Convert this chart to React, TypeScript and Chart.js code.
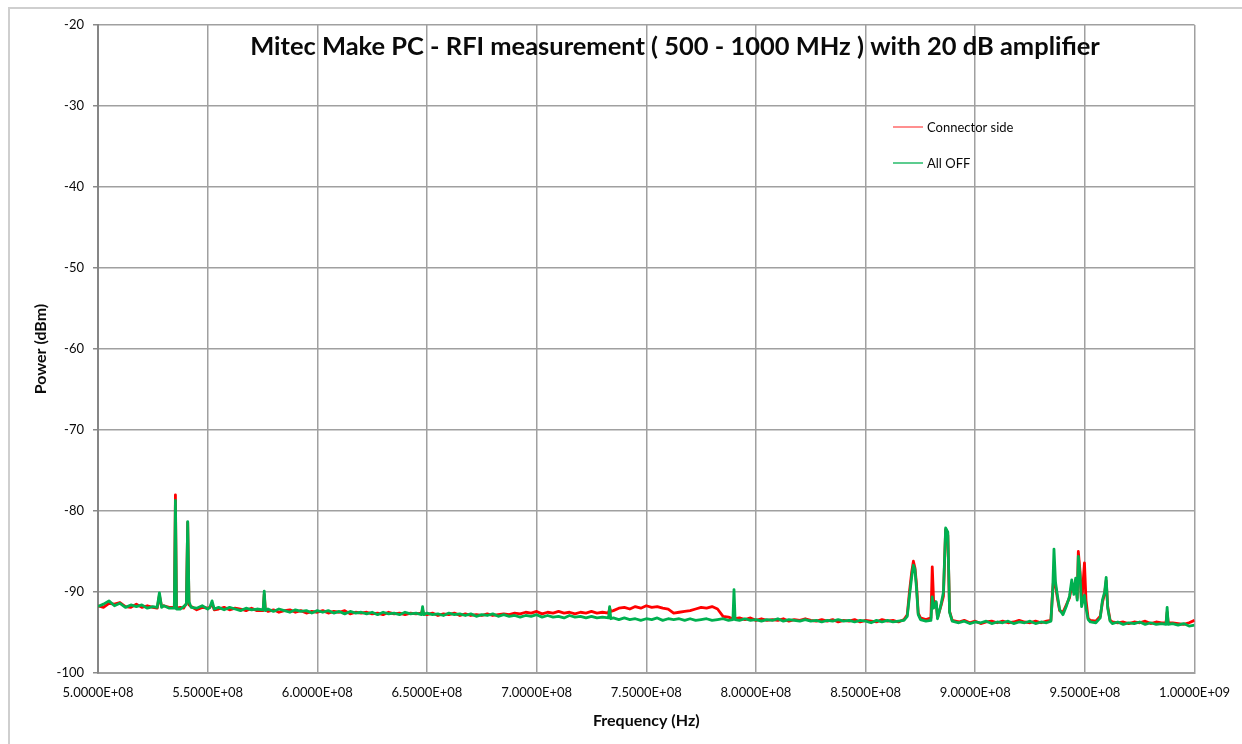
import React, { useEffect, useRef } from "react";
import { Chart, registerables } from "chart.js";

Chart.register(...registerables);

// Frequency in MHz (shared by both traces)
const freqMHz = [
  500, 502.5, 505, 507.5, 510, 512.5, 515, 517.5, 520, 522.5,
  525, 527, 528, 529, 530, 532.5, 534.8, 535.3, 535.8, 537.5,
  539, 540.3, 540.9, 541.5, 542.5, 545, 547.5, 550, 551, 552,
  553, 555, 557.5, 560, 562.5, 565, 567.5, 570, 572.5, 575.3,
  575.8, 576.3, 577.5, 580, 582.5, 585, 587.5, 590, 592.5, 595,
  597.5, 600, 602.5, 605, 607.5, 610, 612.5, 615, 617.5, 620,
  622.5, 625, 627.5, 630, 632.5, 635, 637.5, 640, 642.5, 645,
  647.5, 648, 648.5, 650, 652.5, 655, 657.5, 660, 662.5, 665,
  667.5, 670, 672.5, 675, 677.5, 680, 682.5, 685, 687.5, 690,
  692.5, 695, 697.5, 700, 702.5, 705, 707.5, 710, 712.5, 715,
  717.5, 720, 722.5, 725, 727.5, 730, 732.8, 733.3, 733.8, 735,
  737.5, 740, 742.5, 745, 747.5, 750, 752.5, 755, 757.5, 760,
  762.5, 765, 767.5, 770, 772.5, 775, 777.5, 780, 782.5, 785,
  787.5, 789.5, 790, 790.5, 792.5, 795, 797.5, 800, 802.5, 805,
  807.5, 810, 812.5, 815, 817.5, 820, 822.5, 825, 827.5, 830,
  832.5, 835, 837.5, 840, 842.5, 845, 847.5, 850, 852.5, 855,
  857.5, 860, 862.5, 865, 867.5, 869, 870, 871, 871.8, 872.5,
  873.2, 874, 875, 877.5, 879.8, 880.4, 881, 882.2, 882.8, 884.5,
  885.5, 886.5, 887.5, 888.3, 889.5, 892.5, 895, 897.5, 900, 902.5,
  905, 907.5, 910, 912.5, 915, 917.5, 920, 922.5, 925, 927.5,
  930, 932.5, 934.5, 935.3, 935.9, 936.6, 937.5, 938.5, 940, 941.5,
  943, 944, 945, 945.8, 946.5, 947, 947.8, 948.5, 949.8, 950.5,
  951.5, 952.5, 955, 957, 958, 959, 959.7, 960.4, 961.5, 962.5,
  965, 967.5, 970, 972.5, 975, 977.5, 980, 982.5, 985, 987,
  987.5, 988, 990, 992.5, 995, 997.5, 1000,
];

// Power (dBm) - "Connector side" (red)
const connectorSide = [
  -91.7, -91.9, -91.4, -91.5, -91.3, -91.8, -91.9, -91.5, -91.9, -91.7,
  -91.9, -92.0, -90.4, -91.8, -91.7, -91.9, -91.9, -78.0, -92.0, -91.9,
  -92.0, -91.4, -81.4, -91.6, -91.8, -92.2, -91.9, -92.0, -91.9, -91.4,
  -92.2, -92.1, -91.9, -92.2, -92.0, -92.1, -92.3, -92.0, -92.3, -92.3,
  -90.3, -92.1, -92.4, -92.2, -92.5, -92.3, -92.2, -92.5, -92.3, -92.6,
  -92.4, -92.5, -92.3, -92.6, -92.4, -92.5, -92.3, -92.7, -92.5, -92.6,
  -92.5, -92.7, -92.6, -92.8, -92.5, -92.7, -92.6, -92.8, -92.6, -92.7,
  -92.6, -92.2, -92.7, -92.8, -92.6, -92.9, -92.7, -92.8, -92.6, -92.9,
  -92.7, -92.9, -92.8, -92.9, -92.7, -92.9, -92.8, -92.7, -92.8, -92.6,
  -92.7, -92.5, -92.6, -92.4, -92.7, -92.5, -92.6, -92.4, -92.6, -92.5,
  -92.7, -92.5, -92.6, -92.4, -92.6, -92.5, -92.6, -92.0, -92.4, -92.3,
  -92.0, -91.9, -92.1, -91.8, -92.0, -91.7, -91.9, -91.8, -92.0, -92.1,
  -92.6, -92.5, -92.4, -92.3, -92.1, -91.9, -92.0, -91.8, -92.1, -93.0,
  -93.1, -93.3, -93.0, -93.3, -93.2, -93.4, -93.2, -93.5, -93.3, -93.5,
  -93.4, -93.5, -93.3, -93.6, -93.4, -93.5, -93.3, -93.5, -93.6, -93.4,
  -93.6, -93.4, -93.7, -93.5, -93.6, -93.4, -93.7, -93.5, -93.6, -93.7,
  -93.4, -93.6, -93.5, -93.7, -93.4, -92.8, -90.0, -87.6, -86.2, -87.0,
  -89.0, -92.6, -93.2, -93.4, -93.2, -86.9, -91.0, -91.4, -93.2, -91.6,
  -90.5, -82.3, -83.0, -92.4, -93.5, -93.7, -93.5, -93.8, -93.6, -93.9,
  -93.7, -93.6, -93.8, -93.6, -93.8, -93.7, -93.5, -93.7, -93.8, -93.6,
  -93.8, -93.6, -93.5, -89.8, -88.0, -89.3, -90.8, -92.3, -92.5, -91.6,
  -90.7, -89.2, -90.0, -88.5, -90.8, -85.0, -87.5, -91.5, -86.4, -91.0,
  -93.3, -93.5, -93.6, -93.0, -91.3, -90.2, -88.6, -91.8, -93.5, -93.7,
  -93.8, -93.7, -93.9, -93.7, -93.8, -93.6, -93.9, -93.7, -93.8, -93.8,
  -92.5, -93.8, -93.8, -93.9, -94.0, -93.8, -93.5,
];

// Power (dBm) - "All OFF" (green)
const allOff = [
  -91.8, -91.5, -91.1, -91.7, -91.4, -91.9, -91.6, -91.8, -91.6, -92.0,
  -91.8, -91.9, -90.1, -91.9, -91.7, -92.0, -92.0, -78.7, -92.1, -92.1,
  -91.8, -91.5, -81.3, -91.2, -91.9, -92.0, -91.7, -92.1, -91.9, -91.1,
  -92.1, -91.9, -92.2, -91.9, -92.1, -92.3, -92.0, -92.2, -92.1, -92.2,
  -89.9, -92.3, -92.1, -92.4, -92.1, -92.3, -92.5, -92.2, -92.4, -92.3,
  -92.6, -92.3, -92.5, -92.3, -92.6, -92.4, -92.7, -92.4, -92.6, -92.5,
  -92.7, -92.5, -92.8, -92.5, -92.7, -92.6, -92.8, -92.5, -92.7, -92.6,
  -92.8, -91.8, -92.8, -92.6, -92.8, -92.7, -92.9, -92.6, -92.8, -92.7,
  -92.9, -92.7, -93.0, -92.8, -92.9, -92.7, -93.0, -92.8, -93.0, -92.9,
  -93.1, -92.9, -93.0, -92.8, -93.1, -92.9, -93.1, -93.0, -93.2, -92.9,
  -93.1, -93.0, -93.2, -93.0, -93.2, -93.1, -93.2, -91.8, -93.3, -93.2,
  -93.4, -93.2, -93.4, -93.3, -93.5, -93.3, -93.4, -93.2, -93.5, -93.3,
  -93.4, -93.3, -93.5, -93.3, -93.5, -93.4, -93.3, -93.5, -93.4, -93.3,
  -93.5, -93.4, -89.7, -93.4, -93.5, -93.3, -93.5, -93.4, -93.6, -93.4,
  -93.5, -93.3, -93.6, -93.4, -93.5, -93.6, -93.4, -93.6, -93.5, -93.7,
  -93.5, -93.6, -93.4, -93.6, -93.5, -93.7, -93.5, -93.6, -93.8, -93.5,
  -93.7, -93.5, -93.7, -93.6, -93.5, -93.0, -90.5, -88.2, -86.7, -87.2,
  -89.5, -92.8, -93.4, -93.6, -93.5, -90.6, -92.0, -91.2, -93.3, -91.4,
  -90.0, -82.1, -82.6, -92.5, -93.6, -93.8, -93.6, -93.9, -93.7, -93.8,
  -93.6, -93.9, -93.7, -93.8, -93.6, -93.9, -93.7, -93.8, -93.6, -93.9,
  -93.7, -93.8, -93.6, -90.0, -84.7, -88.8, -90.5, -92.2, -92.8, -91.8,
  -90.5, -88.5, -90.3, -88.3, -91.0, -85.6, -88.0, -91.8, -90.4, -92.0,
  -93.4, -93.7, -93.8, -93.2, -91.0, -90.0, -88.2, -92.0, -93.6, -93.9,
  -93.7, -94.0, -93.8, -93.9, -93.7, -94.0, -93.8, -94.0, -93.9, -94.0,
  -91.9, -94.0, -93.9, -94.1, -93.9, -94.2, -94.1,
];

const xTickLabels = [
  "5.0000E+08", "5.5000E+08", "6.0000E+08", "6.5000E+08", "7.0000E+08", "7.5000E+08",
  "8.0000E+08", "8.5000E+08", "9.0000E+08", "9.5000E+08", "1.0000E+09",
];
const seriesNames = ["Connector side", "All OFF"];
const seriesColors = ["#ff0000", "#00b050"];
const legendColors = ["rgba(255,40,40,0.65)", "rgba(0,176,80,0.8)"];
const chartTitle = "Mitec Make PC - RFI measurement ( 500 - 1000 MHz ) with 20 dB amplifier";
const xTitle = "Frequency (Hz)";
const yTitle = "Power (dBm)";

const FONT = "Lato";
const TEXT = "#0a0a0a";

const decorPlugin = {
  id: "decor",
  beforeDraw(chart: any) {
    const ctx = chart.ctx;
    ctx.save();
    ctx.fillStyle = "#ffffff";
    ctx.fillRect(0, 0, chart.width, chart.height);
    ctx.strokeStyle = "#cfcfcf";
    ctx.lineWidth = 2;
    ctx.strokeRect(9, 8, chart.width + 20, chart.height + 20);
    ctx.restore();
  },
  afterDraw(chart: any) {
    const ctx = chart.ctx;
    ctx.save();
    // Title
    ctx.font = `bold 24px ${FONT}`;
    const w = ctx.measureText(chartTitle).width;
    const size = 24 * 850 / w;
    ctx.font = `bold ${size}px ${FONT}`;
    ctx.fillStyle = TEXT;
    ctx.textAlign = "center";
    ctx.textBaseline = "middle";
    ctx.fillText(chartTitle, 675, 47);
    // Legend
    ctx.font = `13px ${FONT}`;
    ctx.textAlign = "left";
    const ys = [127, 163];
    seriesNames.forEach((name, i) => {
      ctx.strokeStyle = legendColors[i];
      ctx.lineWidth = 1.6;
      ctx.beginPath();
      ctx.moveTo(893, ys[i]);
      ctx.lineTo(923, ys[i]);
      ctx.stroke();
      ctx.fillStyle = TEXT;
      ctx.fillText(name, 927, ys[i] + 0.5);
    });
    ctx.restore();
  },
};

export default function App() {
  const canvasRef = useRef<HTMLCanvasElement | null>(null);

  useEffect(() => {
    document.body.style.margin = "0";
    const canvas = canvasRef.current;
    if (!canvas) return;
    const makeData = (vals: number[]) => freqMHz.map((f, i) => ({ x: f, y: vals[i] }));
    const chart = new Chart(canvas, {
      type: "line",
      data: {
        datasets: [
          {
            label: seriesNames[0],
            data: makeData(connectorSide),
            borderColor: seriesColors[0],
            backgroundColor: seriesColors[0],
            borderWidth: 2.8,
            pointRadius: 0,
            tension: 0,
            borderJoinStyle: "round",
            order: 1,
          },
          {
            label: seriesNames[1],
            data: makeData(allOff),
            borderColor: seriesColors[1],
            backgroundColor: seriesColors[1],
            borderWidth: 2.8,
            pointRadius: 0,
            tension: 0,
            borderJoinStyle: "round",
            order: 0,
          },
        ],
      },
      options: {
        animation: false,
        responsive: false,
        devicePixelRatio: 1,
        layout: { padding: { left: 0, top: 25, right: 47, bottom: 0 } },
        plugins: {
          legend: { display: false },
          title: { display: false },
          tooltip: { enabled: false },
        },
        scales: {
          x: {
            type: "linear",
            min: 500,
            max: 1000,
            afterFit: (s: any) => { s.height = 71; },
            ticks: {
              stepSize: 50,
              padding: 12,
              maxRotation: 0,
              autoSkip: false,
              color: TEXT,
              font: { family: FONT, size: 13 },
              callback: (v: any) => xTickLabels[Math.round((Number(v) - 500) / 50)] ?? "",
            },
            grid: { color: "#a0a0a0", lineWidth: 1.5, drawTicks: false },
            border: { color: "#a0a0a0", width: 2 },
            title: {
              display: true,
              text: xTitle,
              color: TEXT,
              font: { family: FONT, size: 16, weight: "bold" },
              padding: { top: 0, bottom: 14 },
            },
          },
          y: {
            type: "linear",
            min: -100,
            max: -20,
            afterFit: (s: any) => { s.width = 98; },
            ticks: {
              stepSize: 10,
              padding: 9,
              color: TEXT,
              font: { family: FONT, size: 13 },
            },
            grid: { color: "#a0a0a0", lineWidth: 1.5, tickLength: 5, tickColor: "#8a8a8a" },
            border: { color: "#868686", width: 2 },
            title: {
              display: true,
              text: yTitle,
              color: TEXT,
              font: { family: FONT, size: 16, weight: "bold" },
              padding: { top: 31, bottom: 0 },
            },
          },
        },
      },
      plugins: [decorPlugin],
    } as any);
    return () => chart.destroy();
  }, []);

  return (
    <div style={{ position: "absolute", left: 0, top: 0, width: 1242, height: 744 }}>
      <canvas ref={canvasRef} width={1242} height={744} style={{ width: 1242, height: 744, display: "block" }} />
    </div>
  );
}
